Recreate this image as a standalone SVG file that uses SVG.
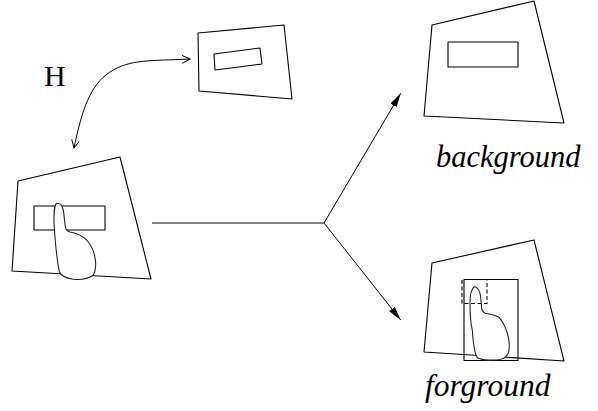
<svg xmlns="http://www.w3.org/2000/svg" width="598" height="411" viewBox="0 0 598 411">
  <style>
    .edge { fill: none; stroke: #000; stroke-width: 1; }
    .frame { fill: none; stroke: #000; stroke-width: 1.1; stroke-linejoin: round; }
    .hand { fill: #fff; stroke: #222; stroke-width: 1.1; }
    .dash { fill: none; stroke: #000; stroke-width: 1.1; stroke-dasharray: 4 2.5; }
    .label { font-family: "Liberation Serif", "Times New Roman", serif; fill: #000; }
    .caption { font-family: "Liberation Serif", "Times New Roman", serif; font-style: italic; fill: #000; }
  </style>
  <defs>
    <marker id="open" markerUnits="userSpaceOnUse" markerWidth="10" markerHeight="10" refX="8" refY="4" orient="auto-start-reverse" viewBox="0 0 10 10">
      <path d="M0,0 L8,4 L0,8" fill="none" stroke="#000" stroke-width="1"/>
    </marker>
    <marker id="solid" markerUnits="userSpaceOnUse" markerWidth="16" markerHeight="8" refX="14" refY="3.5" orient="auto" viewBox="0 0 16 8">
      <path d="M0,0 L14,3.5 L0,7 z" fill="#000"/>
    </marker>
  </defs>

  <!-- source image with hand in front of the board -->
  <g id="source">
    <polygon class="frame" points="18,181 120,157 151,279 12,271"/>
    <rect class="frame" x="34" y="206" width="71" height="24"/>
    <path class="hand" d="M56.7,203.3 C54,205 54,212 54,223 C55,240 57,260 59.3,271.7 C61,276 66,278 73.3,279.3 C80,280 88,279 93.3,275 C96,271 96,262 95,258 C94,250 90,244 86.7,240 C82,235 75,233 70,232 C66,231 65,228 65,224 C64,218 64,212 63,209 C62,205 60,203 56.7,203.3 Z"/>
  </g>

  <!-- warped reference board -->
  <g id="reference">
    <polygon class="frame" points="198,33 284,25 292,99 199,91"/>
    <polygon class="frame" points="214,54 260,48 262,64 215,70"/>
  </g>

  <g id="label-h">
    <text class="label" x="44" y="86" font-size="30">H</text>
  </g>

  <!-- background result -->
  <g id="background">
    <polygon class="frame" points="432,25 534,1 564,123 424,116"/>
    <rect class="frame" x="448" y="42" width="70" height="25"/>
    <text class="caption" x="436" y="167" font-size="30.5">background</text>
  </g>

  <!-- foreground result -->
  <g id="foreground">
    <polygon class="frame" points="432,263 534,240 564,361 424,352"/>
    <rect class="frame" x="464" y="279.5" width="54" height="81"/>
    <path class="hand" d="M474.3,286.7 C471,289 470,295 470,303 C470,315 471,325 472.3,330 C473,340 474,347 475,351.7 C476,356 477,358 478.3,358.3 C483,360 487,360.5 491.7,360 C498,360 503,359 505,357.3 C508,355 509,353 509,350 C509.5,345 509,340 508.3,336.7 C507,332 506,329 505,326.7 C502,321 500,318 498.3,316.7 C494,315 489,314 485,313.3 C482,311 481.5,309 481.7,308.3 C481,303 481,297 480,293.3 C479,290 478,287 474.3,286.7 Z"/>
    <path class="dash" d="M462,280 L462,303.5 L487,303.5 L487,280"/>
    <text class="caption" x="425" y="396" font-size="31.5">forground</text>
  </g>

  <!-- connectors -->
  <g id="connectors">
    <path class="edge" d="M74,148 C82,110 90,85 110,72 S150,61 190,59" marker-start="url(#open)" marker-end="url(#open)"/>
    <path class="edge" d="M152,223 L324,223"/>
    <path class="edge" d="M324,223 L400.7,93.3" marker-end="url(#solid)"/>
    <path class="edge" d="M324,223 L400.7,320" marker-end="url(#solid)"/>
  </g>
</svg>
